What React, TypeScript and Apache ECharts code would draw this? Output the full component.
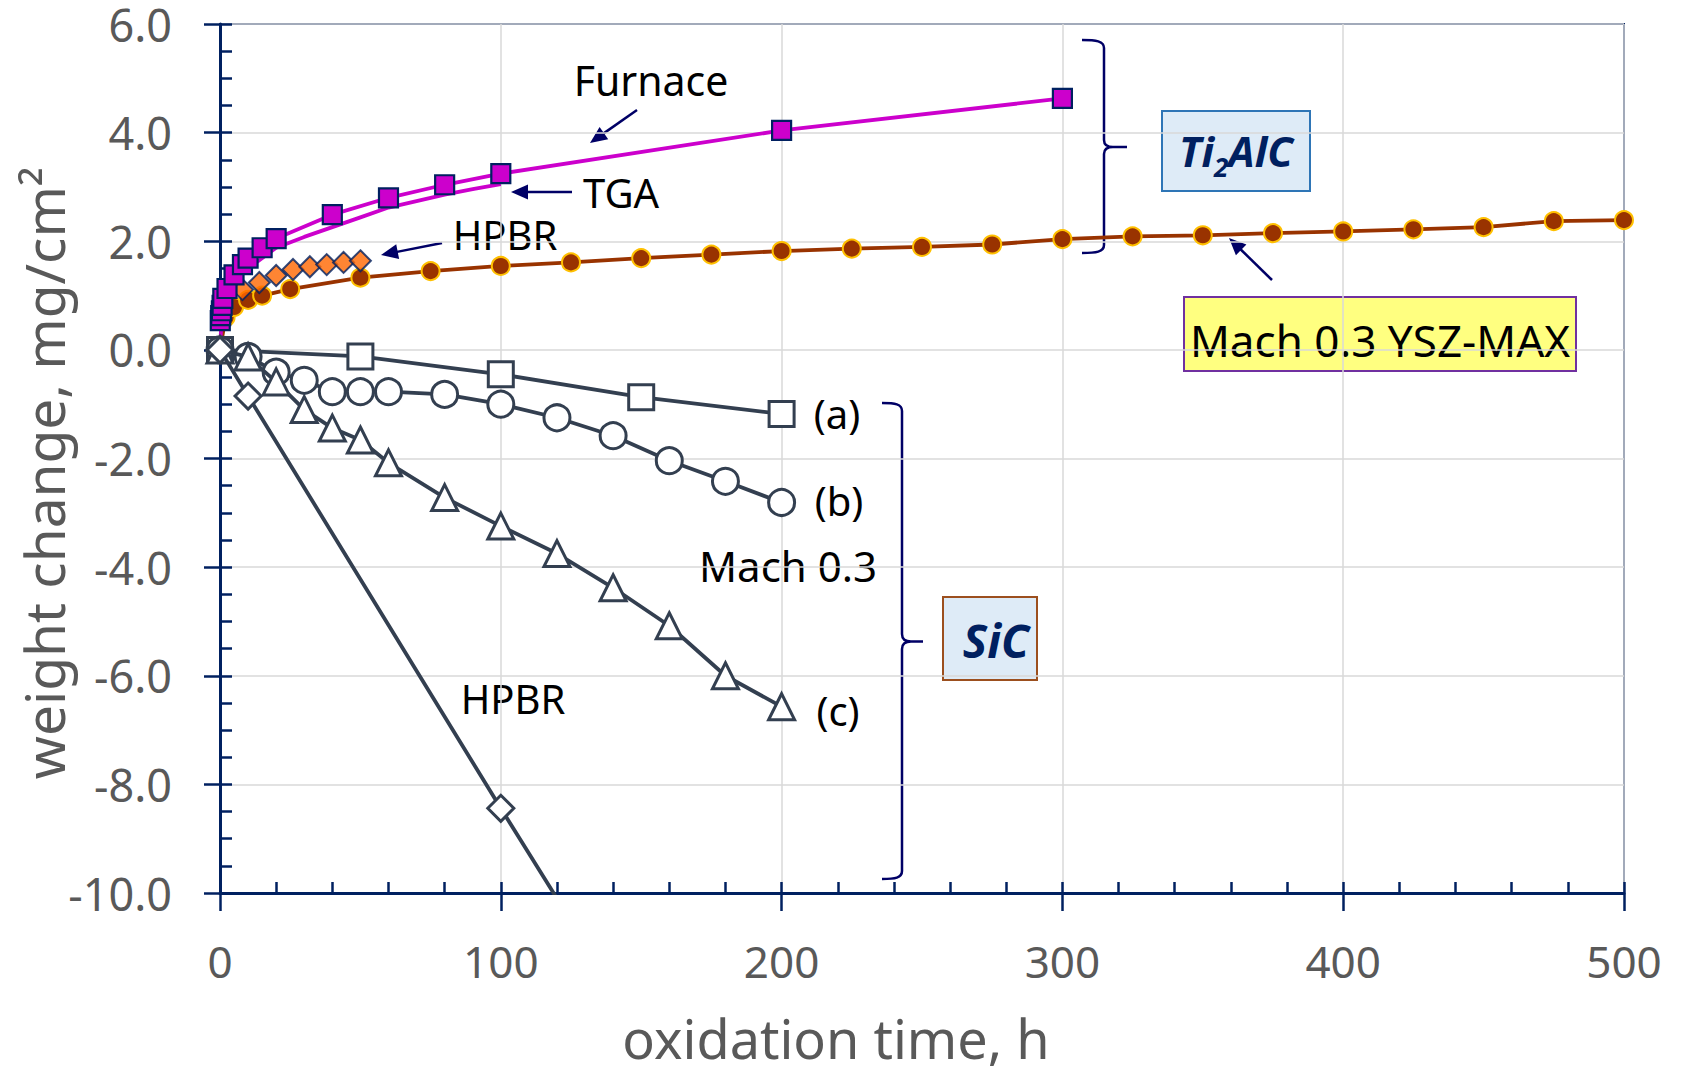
import React, { useEffect, useRef } from "react";
import * as echarts from "echarts";

// ---------- data ----------
const xMin = 0;
const xMax = 500;
const xStep = 100;
const yMin = -10;
const yMax = 6;
const yStep = 2;

// Ti2AlC, furnace (magenta squares)
const furnaceTime = [0.1, 0.25, 0.5, 0.75, 1, 2.5, 5, 8, 10, 15, 20, 40, 60, 80, 100, 200, 300];
const furnaceGain = [0.54, 0.63, 0.72, 0.82, 0.95, 1.13, 1.38, 1.57, 1.69, 1.88, 2.05, 2.49, 2.8, 3.04, 3.245, 4.04, 4.63];

// Ti2AlC, TGA (magenta line)
const tgaTime = [0, 0.5, 1, 2, 5, 10, 20, 30, 40, 50, 60, 70, 80, 90, 100];
const tgaGain = [0, 0.5, 0.72, 0.95, 1.25, 1.5, 1.88, 2.08, 2.26, 2.44, 2.62, 2.74, 2.86, 2.96, 3.05];

// Ti2AlC, HPBR (orange diamonds)
const hpbrTiTime = [8, 14, 20, 26, 32, 38, 44, 50];
const hpbrTiGain = [1.11, 1.24, 1.37, 1.48, 1.53, 1.57, 1.61, 1.64];

// Mach 0.3 YSZ-MAX (brown circles)
const yszTime = [0, 2, 5, 10, 15, 25, 50, 75, 100, 125, 150, 175, 200, 225, 250, 275, 300, 325, 350, 375, 400, 425, 450, 475, 500];
const yszGain = [0, 0.6, 0.79, 0.92, 1.0, 1.12, 1.33, 1.45, 1.545, 1.61, 1.69, 1.755, 1.82, 1.865, 1.895, 1.94, 2.04, 2.09, 2.11, 2.15, 2.18, 2.22, 2.26, 2.37, 2.39];

// SiC, Mach 0.3 (a) squares
const sicATime = [0, 50, 100, 150, 200];
const sicAGain = [0, -0.12, -0.45, -0.87, -1.18];

// SiC, Mach 0.3 (b) circles
const sicBTime = [0, 10, 20, 30, 40, 50, 60, 80, 100, 120, 140, 160, 180, 200];
const sicBGain = [0, -0.12, -0.41, -0.56, -0.77, -0.77, -0.77, -0.82, -1.0, -1.25, -1.58, -2.04, -2.42, -2.81];

// SiC, Mach 0.3 (c) triangles
const sicCTime = [0, 10, 20, 30, 40, 50, 60, 80, 100, 120, 140, 160, 180, 200];
const sicCGain = [0, -0.13, -0.59, -1.1, -1.44, -1.66, -2.08, -2.72, -3.245, -3.75, -4.38, -5.08, -6.0, -6.57];

// SiC, HPBR (diamonds) - last point runs off the bottom of the plot
const sicDTime = [0, 10, 100, 120];
const sicDGain = [0, -0.85, -8.44, -10.1];

// ---------- styling ----------
const FONT = "'Noto Sans', 'Open Sans', sans-serif";
const NAVY = "#002060";
const ANNO = "#000066";
const SLATE = "#333F50";
const MAGENTA = "#CC00CC";
const BROWN = "#993300";
const GREY_TEXT = "#595959";

const BRACE_TI =
  "M1082,40 C1096,40 1104,41 1104,48 L1104,140 C1104,145 1107,147 1113,147 L1127,147 M1113,147 C1107,147 1104,149 1104,154 L1104,245 C1104,252 1096,253 1082,253";
const BRACE_SIC =
  "M882,403 C895,403 902,404 902,411 L902,634 C902,639 905,641.5 911,641.5 L923,641.5 M911,641.5 C905,641.5 902,644 902,649 L902,871 C902,878 895,879 882,879";

echarts.graphic.registerShape("braceTi", echarts.graphic.extendPath(BRACE_TI, {}));
echarts.graphic.registerShape("braceSiC", echarts.graphic.extendPath(BRACE_SIC, {}));

function pairs(xs: number[], ys: number[]) {
  return xs.map((x, i) => [x, ys[i]]);
}

function arrowEls(x1: number, y1: number, x2: number, y2: number) {
  const dx = x2 - x1;
  const dy = y2 - y1;
  const len = Math.hypot(dx, dy);
  const ux = dx / len;
  const uy = dy / len;
  const L = 17;
  const W = 7.5;
  const bx = x2 - ux * L;
  const by = y2 - uy * L;
  return [
    {
      type: "line",
      shape: { x1, y1, x2: bx + ux * 2, y2: by + uy * 2 },
      style: { stroke: ANNO, lineWidth: 2.5 },
    },
    {
      type: "polygon",
      shape: {
        points: [
          [x2, y2],
          [bx - uy * W, by + ux * W],
          [bx + uy * W, by - ux * W],
        ],
      },
      style: { fill: ANNO },
    },
  ];
}

function label(text: string, x: number, y: number, size = 40) {
  return {
    type: "text",
    x,
    y,
    style: {
      text,
      fill: "#000000",
      fontSize: size,
      fontFamily: FONT,
      align: "center",
      verticalAlign: "middle",
    },
  };
}

function hollowSeries(name: string, xs: number[], ys: number[], symbol: string, size: number, z: number) {
  return {
    type: "line",
    name,
    data: pairs(xs, ys),
    symbol,
    symbolSize: size,
    showAllSymbol: true,
    itemStyle: { color: "#FFFFFF", borderColor: SLATE, borderWidth: 3 },
    lineStyle: { color: SLATE, width: 3.8 },
    z,
    silent: true,
  };
}

export default function App() {
  const ref = useRef<HTMLDivElement>(null);

  useEffect(() => {
    document.body.style.margin = "0";
    const chart = echarts.init(ref.current!, null, { renderer: "svg" });

    const sicD: any[] = pairs(sicDTime, sicDGain).map((p, i) =>
      i === sicDTime.length - 1 ? { value: p, symbol: "none" } : p
    );

    const option: any = {
      animation: false,
      backgroundColor: "#FFFFFF",
      grid: {
        left: 220,
        right: 59,
        top: 24,
        bottom: 179,
        show: true,
        borderColor: NAVY,
        borderWidth: 2,
        backgroundColor: "transparent",
      },
      xAxis: [
        {
          type: "value",
          min: xMin,
          max: xMax,
          interval: xStep,
          position: "bottom",
          axisLine: { show: true, onZero: false, lineStyle: { color: NAVY, width: 3 } },
          axisTick: { show: true, inside: false, length: 18, lineStyle: { color: NAVY, width: 2.5 } },
          axisLabel: { margin: 46, fontSize: 44, color: GREY_TEXT, fontFamily: FONT },
          splitLine: { show: true, lineStyle: { color: "#D9D9D9", width: 1.5 } },
        },
        {
          type: "value",
          min: xMin,
          max: xMax,
          interval: xStep,
          position: "bottom",
          gridIndex: 0,
          axisLine: { show: false, onZero: false },
          axisTick: { show: true, inside: true, length: 11, lineStyle: { color: NAVY, width: 2.5 } },
          minorTick: { show: true, splitNumber: 5, length: 11, lineStyle: { color: NAVY, width: 2.5 } },
          axisLabel: { show: false },
          splitLine: { show: false },
        },
      ],
      yAxis: [
        {
          type: "value",
          min: yMin,
          max: yMax,
          interval: yStep,
          position: "left",
          axisLine: { show: true, onZero: false, lineStyle: { color: NAVY, width: 3 } },
          axisTick: { show: true, inside: false, length: 16, lineStyle: { color: NAVY, width: 2.5 } },
          axisLabel: {
            margin: 48,
            fontSize: 45,
            lineHeight: 40,
            color: GREY_TEXT,
            fontFamily: FONT,
            formatter: (v: number) => v.toFixed(1),
          },
          splitLine: { show: true, lineStyle: { color: "#D9D9D9", width: 1.5 } },
        },
        {
          type: "value",
          min: yMin,
          max: yMax,
          interval: yStep,
          position: "left",
          gridIndex: 0,
          axisLine: { show: false, onZero: false },
          axisTick: { show: true, inside: true, length: 12, lineStyle: { color: NAVY, width: 2.5 } },
          minorTick: { show: true, splitNumber: 4, length: 12, lineStyle: { color: NAVY, width: 2.5 } },
          axisLabel: { show: false },
          splitLine: { show: false },
        },
      ],
      series: [
        {
          type: "line",
          name: "Mach 0.3 YSZ-MAX",
          data: pairs(yszTime, yszGain),
          symbol: "circle",
          symbolSize: 18,
          showAllSymbol: true,
          itemStyle: { color: BROWN, borderColor: "#FFC000", borderWidth: 2 },
          lineStyle: { color: BROWN, width: 3.8 },
          z: 2,
          silent: true,
        },
        {
          type: "scatter",
          name: "HPBR Ti2AlC",
          data: pairs(hpbrTiTime, hpbrTiGain),
          symbol: "diamond",
          symbolSize: 21,
          itemStyle: { color: "#FF6600", borderColor: NAVY, borderWidth: 2 },
          z: 3,
          silent: true,
        },
        {
          type: "line",
          name: "TGA",
          data: pairs(tgaTime, tgaGain),
          symbol: "none",
          showSymbol: false,
          lineStyle: { color: MAGENTA, width: 3.8 },
          z: 4,
          silent: true,
        },
        {
          type: "line",
          name: "Furnace",
          data: pairs(furnaceTime, furnaceGain),
          symbol: "rect",
          symbolSize: 19,
          showAllSymbol: true,
          itemStyle: { color: MAGENTA, borderColor: NAVY, borderWidth: 2.2 },
          lineStyle: { color: MAGENTA, width: 3.8 },
          z: 5,
          silent: true,
        },
        hollowSeries("SiC (a)", sicATime, sicAGain, "rect", 25, 6),
        hollowSeries("SiC (b)", sicBTime, sicBGain, "circle", 26, 7),
        hollowSeries("SiC (c)", sicCTime, sicCGain, "triangle", 26, 8),
        {
          type: "line",
          name: "SiC HPBR",
          data: sicD,
          symbol: "diamond",
          symbolSize: 26,
          showAllSymbol: true,
          itemStyle: { color: "#FFFFFF", borderColor: SLATE, borderWidth: 3 },
          lineStyle: { color: SLATE, width: 3.8 },
          z: 9,
          silent: true,
        },
      ],
      graphic: [
        {
          type: "group",
          z: 20,
          children: [
            // axis titles
            {
              type: "text",
              x: 836,
              y: 1038,
              style: {
                text: "oxidation time, h",
                fill: GREY_TEXT,
                fontSize: 54,
                lineHeight: 46,
                fontFamily: FONT,
                align: "center",
                verticalAlign: "middle",
              },
            },
            {
              type: "text",
              x: 43,
              y: 473,
              rotation: Math.PI / 2,
              style: {
                text: "weight change, mg/cm²",
                fill: GREY_TEXT,
                fontSize: 55,
                fontFamily: FONT,
                align: "center",
                verticalAlign: "middle",
              },
            },
            // labels
            label("Furnace", 651, 80, 41),
            label("TGA", 621, 192, 40),
            label("HPBR", 505, 234, 40),
            label("HPBR", 513, 698, 40),
            label("(a)", 837, 413, 40),
            label("(b)", 839, 500, 40),
            label("(c)", 838, 710, 40),
            label("Mach 0.3", 788, 565, 42),
            // arrows
            ...arrowEls(637, 110, 590, 143),
            ...arrowEls(572, 192, 511, 192),
            ...arrowEls(442, 243, 381, 255),
            ...arrowEls(1272, 280, 1229, 238),
            // braces
            { type: "braceTi", style: { stroke: ANNO, lineWidth: 2.5, fill: "none" } },
            { type: "braceSiC", style: { stroke: ANNO, lineWidth: 2.5, fill: "none" } },
            // Ti2AlC box
            {
              type: "rect",
              shape: { x: 1162, y: 111, width: 148, height: 80 },
              style: { fill: "#DEEBF7", stroke: "#2E75B6", lineWidth: 2 },
            },
            {
              type: "text",
              x: 1236,
              y: 150,
              style: {
                text: "{a|Ti}{s|2}{a|AlC}",
                align: "center",
                verticalAlign: "middle",
                rich: {
                  a: { fontSize: 42, fontFamily: FONT, fontWeight: "bold", fontStyle: "italic", fill: NAVY },
                  s: {
                    fontSize: 26,
                    fontFamily: FONT,
                    fontWeight: "bold",
                    fontStyle: "italic",
                    fill: NAVY,
                    padding: [33, 0, 0, 0],
                  },
                },
              },
            },
            // SiC box
            {
              type: "rect",
              shape: { x: 943, y: 597, width: 94, height: 83 },
              style: { fill: "#DEEBF7", stroke: "#9C4F1E", lineWidth: 2 },
            },
            {
              type: "text",
              x: 996,
              y: 640,
              style: {
                text: "SiC",
                fill: NAVY,
                fontSize: 46,
                fontFamily: FONT,
                fontWeight: "bold",
                fontStyle: "italic",
                align: "center",
                verticalAlign: "middle",
              },
            },
            // Mach 0.3 YSZ-MAX box
            {
              type: "rect",
              shape: { x: 1184, y: 297, width: 392, height: 74 },
              style: { fill: "#FFFF80", stroke: "#7030A0", lineWidth: 2 },
            },
            label("Mach 0.3 YSZ-MAX", 1380, 340, 44),
          ],
        },
      ],
    };

    chart.setOption(option);
    return () => chart.dispose();
  }, []);

  return <div ref={ref} style={{ width: 1683, height: 1072 }} />;
}
